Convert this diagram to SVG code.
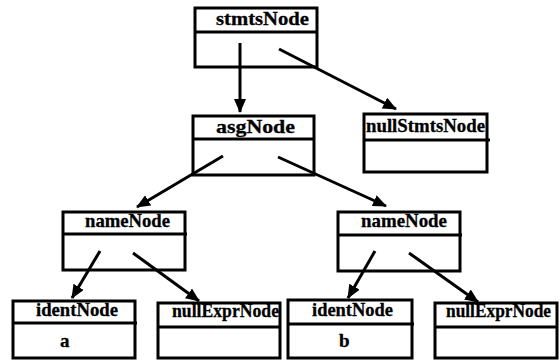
<svg xmlns="http://www.w3.org/2000/svg" width="559" height="360" viewBox="0 0 559 360">
<defs>
<style>
.box{fill:none;stroke:#000;stroke-width:3}
.t{font-family:"Liberation Serif","Times New Roman",serif;font-weight:bold;font-size:19px;fill:#000;stroke:#000;stroke-width:0.3}
.c{stroke:#000;stroke-width:3;fill:none;marker-end:url(#ah)}
</style>
<marker id="ah" markerUnits="userSpaceOnUse" markerWidth="14" markerHeight="12" viewBox="0 0 14 12" refX="13" refY="6" orient="auto">
<path d="M0,0 L14,6 L0,12 z" fill="#000"/>
</marker>
</defs>
<rect width="559" height="360" fill="#fff"/>
<g id="connectors">
<line class="c" x1="240" y1="43" x2="240" y2="112"/>
<line class="c" x1="279" y1="49" x2="396" y2="109"/>
<line class="c" x1="223" y1="156" x2="137" y2="207"/>
<line class="c" x1="278" y1="157" x2="386" y2="206"/>
<line class="c" x1="100" y1="251" x2="72" y2="298"/>
<line class="c" x1="133" y1="253" x2="199" y2="301"/>
<line class="c" x1="375" y1="251" x2="348" y2="298"/>
<line class="c" x1="409" y1="253" x2="478" y2="302"/>
</g>
<g id="stmtsNode">
<rect class="box" x="195" y="8" width="122" height="59"/>
<line class="box" x1="195" y1="32" x2="317" y2="32"/>
<text class="t" x="216" y="25" textLength="93" lengthAdjust="spacingAndGlyphs">stmtsNode</text>
</g>
<g id="asgNode">
<rect class="box" x="193" y="116" width="121" height="59"/>
<line class="box" x1="193" y1="139" x2="314" y2="139"/>
<text class="t" x="216" y="133" textLength="79" lengthAdjust="spacingAndGlyphs">asgNode</text>
</g>
<g id="nullStmtsNode">
<rect class="box" x="364" y="114" width="123" height="58"/>
<line class="box" x1="364" y1="140" x2="490" y2="140"/>
<text class="t" x="366" y="132" textLength="119" lengthAdjust="spacingAndGlyphs">nullStmtsNode</text>
</g>
<g id="nameNode1">
<rect class="box" x="63" y="212" width="122" height="58"/>
<line class="box" x1="63" y1="234" x2="187" y2="234"/>
<text class="t" x="85" y="227" textLength="85" lengthAdjust="spacingAndGlyphs">nameNode</text>
</g>
<g id="nameNode2">
<rect class="box" x="338" y="212" width="122" height="59"/>
<line class="box" x1="338" y1="235" x2="462" y2="235"/>
<text class="t" x="361" y="227" textLength="86" lengthAdjust="spacingAndGlyphs">nameNode</text>
</g>
<g id="identNodeA">
<rect class="box" x="13" y="301" width="122" height="57"/>
<line class="box" x1="13" y1="323" x2="137" y2="323"/>
<text class="t" x="36" y="316" textLength="82" lengthAdjust="spacingAndGlyphs">identNode</text>
<text class="t" x="60" y="347">a</text>
</g>
<g id="nullExprNode1">
<rect class="box" x="158" y="303" width="122" height="55"/>
<line class="box" x1="158" y1="327" x2="280" y2="327"/>
<text class="t" x="172" y="317" textLength="107" lengthAdjust="spacingAndGlyphs">nullExprNode</text>
</g>
<g id="identNodeB">
<rect class="box" x="288" y="300" width="124" height="58"/>
<line class="box" x1="288" y1="324" x2="414" y2="324"/>
<text class="t" x="312" y="316" textLength="81" lengthAdjust="spacingAndGlyphs">identNode</text>
<text class="t" x="339" y="347">b</text>
</g>
<g id="nullExprNode2">
<rect class="box" x="435" y="303" width="122" height="55"/>
<line class="box" x1="435" y1="327" x2="557" y2="327"/>
<text class="t" x="446" y="317" style="font-size:18px" textLength="105" lengthAdjust="spacingAndGlyphs">nullExprNode</text>
</g>
</svg>
